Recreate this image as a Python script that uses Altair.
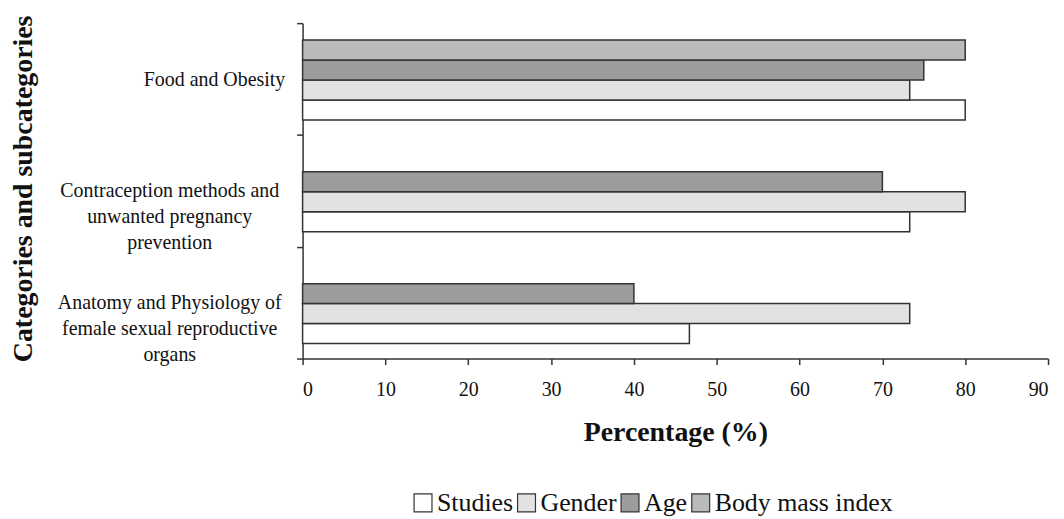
import altair as alt
import pandas as pd

# ---- data ----
categories = [
    "Food and Obesity",
    "Contraception methods and|unwanted pregnancy|prevention",
    "Anatomy and Physiology of|female sexual reproductive|organs",
]
series = ["Studies", "Gender", "Age", "Body mass index"]
studies = [80.0, 73.3, 46.7]
gender = [73.3, 80.0, 73.3]
age = [75.0, 70.0, 40.0]
bmi = [80.0, None, None]
x_ticks = [0, 10, 20, 30, 40, 50, 60, 70, 80, 90]

fills = ["#ffffff", "#e2e2e2", "#9c9c9c", "#bababa"]
stack_order = ["Body mass index", "Age", "Gender", "Studies"]

rows = []
for s, vals in zip(series, [studies, gender, age, bmi]):
    for c, v in zip(categories, vals):
        if v is not None:
            rows.append({"category": c, "series": s, "value": v})
df = pd.DataFrame(rows)

FONT = "Liberation Serif"
INK = "#333333"
# zero-width space first so the no-break spaces are not trimmed away
LEAD = "\u200b" + "\u00a0" * 18

# the single-line label sits closer to the axis, like the reference
label_expr = (
    "indexof(datum.label, '|') < 0 ? '"
    + LEAD
    + "' + datum.label : split(datum.label, '|')"
)

chart = alt.Chart(df).mark_bar(stroke=INK, strokeWidth=1.5).encode(
    x=alt.X(
        "value:Q",
        scale=alt.Scale(domain=[0, 90], nice=False, zero=True),
        axis=alt.Axis(
            values=x_ticks,
            title="Percentage (%)",
            grid=False,
            domainColor=INK,
            domainWidth=1.5,
            tickColor=INK,
            tickWidth=1.5,
            tickSize=6,
            labelFont=FONT,
            labelFontSize=20,
            labelColor="#111111",
            labelPadding=15,
            titleFont=FONT,
            titleFontSize=28,
            titleFontWeight="bold",
            titleColor="#111111",
            titleY=82,
            titleBaseline="alphabetic",
        ),
    ),
    y=alt.Y(
        "category:N",
        sort=categories,
        scale=alt.Scale(paddingInner=0, paddingOuter=0),
        axis=alt.Axis(
            title="Categories and subcategories",
            grid=False,
            tickBand="extent",
            domainColor=INK,
            domainWidth=1.5,
            tickColor=INK,
            tickWidth=1.5,
            tickSize=6,
            labelExpr=label_expr,
            labelFont=FONT,
            labelFontSize=20,
            labelColor="#111111",
            labelAlign="center",
            labelBaseline="middle",
            labelLineHeight=26,
            labelLimit=0,
            labelPadding=128,
            titleFont=FONT,
            titleFontSize=28,
            titleFontWeight="bold",
            titleColor="#111111",
            titleAngle=270,
            titleAlign="center",
            titleBaseline="alphabetic",
            titleX=-272,
            titleY=166,
        ),
    ),
    yOffset=alt.YOffset(
        "series:N",
        sort=stack_order,
        scale=alt.Scale(paddingInner=0, paddingOuter=0.8, align=0.53),
    ),
    fill=alt.Fill(
        "series:N",
        scale=alt.Scale(domain=series, range=fills),
        legend=alt.Legend(
            title=None,
            orient="none",
            legendX=108,
            legendY=469,
            direction="horizontal",
            columns=4,
            symbolType="square",
            symbolSize=324,
            symbolStrokeColor=INK,
            symbolStrokeWidth=1.2,
            labelFont=FONT,
            labelFontSize=26,
            labelColor="#111111",
            labelOffset=1,
            labelLimit=0,
            columnPadding=0,
        ),
    ),
).properties(
    width=749,
    height=337,
    autosize=alt.AutoSizeParams(type="none"),
    padding={"left": 296, "top": 14, "right": 8, "bottom": 160},
).configure_view(stroke=None)

chart.save("out.html", embed_options={"renderer": "svg", "actions": False})
